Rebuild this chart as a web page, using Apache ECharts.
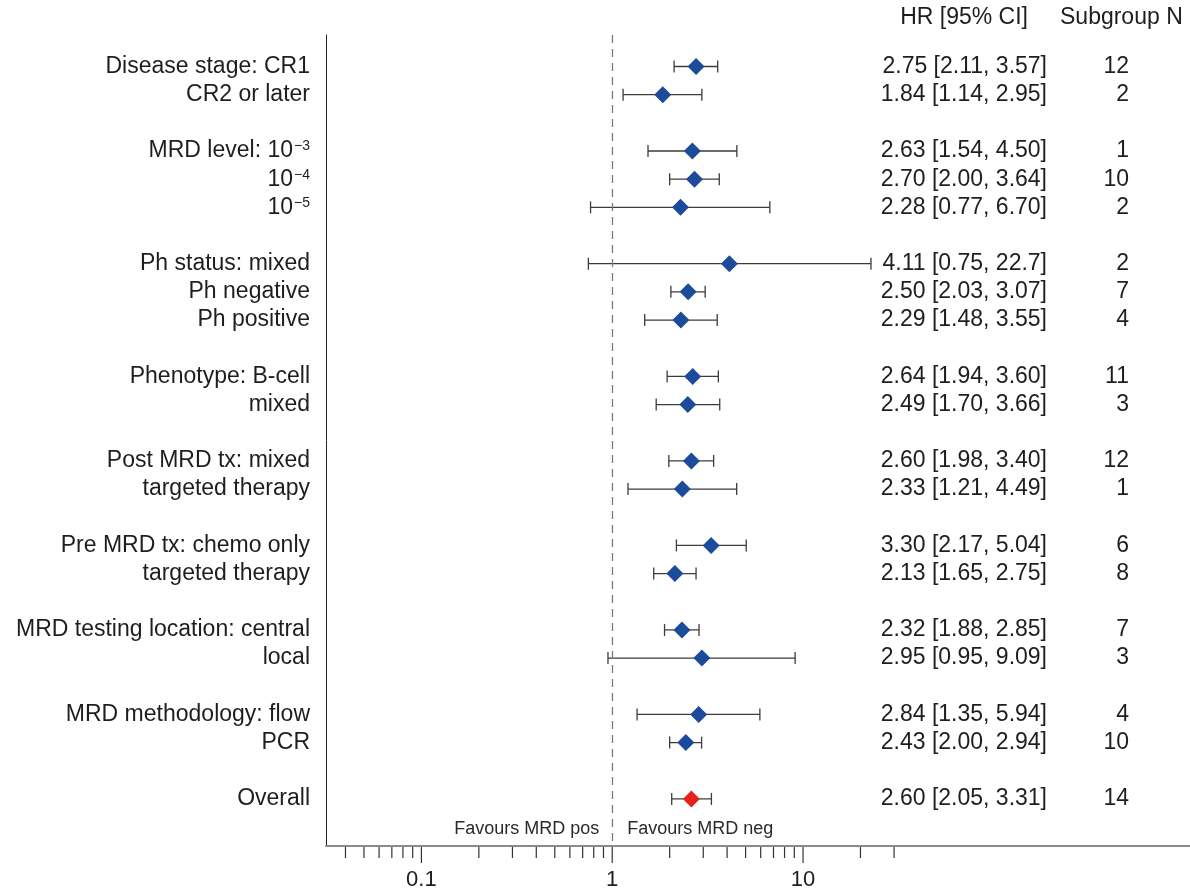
<!DOCTYPE html>
<html><head><meta charset="utf-8">
<script src="https://cdn.jsdelivr.net/npm/echarts@6/dist/echarts.min.js"></script>
<style>html,body{margin:0;padding:0;background:#fff}#c{width:1190px;height:892px}</style>
</head><body><div id="c"></div>
<script>
// ---- data ----
const rows = [0,1,3,4,5,7,8,9,11,12,14,15,17,18,20,21,23,24,26];
const labels = ['Disease stage: CR1','CR2 or later','MRD level: 10^\u22123','10^\u22124','10^\u22125',
  'Ph status: mixed','Ph negative','Ph positive','Phenotype: B-cell','mixed',
  'Post MRD tx: mixed','targeted therapy','Pre MRD tx: chemo only','targeted therapy',
  'MRD testing location: central','local','MRD methodology: flow','PCR','Overall'];
const hr = [2.75,1.84,2.63,2.70,2.28,4.11,2.50,2.29,2.64,2.49,2.60,2.33,3.30,2.13,2.32,2.95,2.84,2.43,2.60];
const lo = [2.11,1.14,1.54,2.00,0.77,0.75,2.03,1.48,1.94,1.70,1.98,1.21,2.17,1.65,1.88,0.95,1.35,2.00,2.05];
const hi = [3.57,2.95,4.50,3.64,6.70,22.7,3.07,3.55,3.60,3.66,3.40,4.49,5.04,2.75,2.85,9.09,5.94,2.94,3.31];
const nSub = [12,2,1,10,2,2,7,4,11,3,12,1,6,8,7,3,4,10,14];
const isOverall = [0,0,0,0,0,0,0,0,0,0,0,0,0,0,0,0,0,0,1];
const tickValues = [0.04,0.05,0.06,0.07,0.08,0.09,0.1,0.2,0.3,0.4,0.5,0.6,0.7,0.8,0.9,1,2,3,4,5,6,7,8,9,10,20,30];
const majorTicks = [0.1,1,10];
const majorLabels = ['0.1','1','10'];
const favours = ['Favours MRD pos','Favours MRD neg'];
const headers = ['HR [95% CI]','Subgroup N'];

// ---- layout ----
const FONT = "'Liberation Sans', Arial, sans-serif";
const TXT = '#1e1e1e';
const Y_MIN = -1.118, Y_MAX = 27.67;
const X_MIN = Math.pow(10,-1.5), X_MAX = Math.pow(10,3.028);

const fmt = v => v >= 10 ? v.toFixed(1) : v.toFixed(2);

function richLabel(s){
  const i = s.indexOf('^');
  if (i < 0) return '{a|' + s + '}';
  return '{a|' + s.slice(0,i) + '}{s|' + s.slice(i+1) + '}';
}

const chart = echarts.init(document.getElementById('c'), null, {renderer:'canvas'});
const option = {
  backgroundColor:'#fff',
  animation:false,
  grid:{left:326, right:0, top:35, bottom:46},
  xAxis:{type:'log', logBase:10, min:X_MIN, max:X_MAX,
    axisLine:{show:true, onZero:false, lineStyle:{color:'#8a8a8a', width:2}},
    axisTick:{show:false}, axisLabel:{show:false}, splitLine:{show:false}, minorTick:{show:false}},
  yAxis:{type:'value', inverse:true, min:Y_MIN, max:Y_MAX,
    axisLine:{show:true, onZero:false, lineStyle:{color:'#222', width:1}},
    axisTick:{show:false}, axisLabel:{show:false}, splitLine:{show:false}},
  graphic:[
    {type:'text', right:1190-1028, top:6, style:{text:headers[0], fill:TXT, font:'23px '+FONT}},
    {type:'text', left:1060, top:6, style:{text:headers[1], fill:TXT, font:'23px '+FONT}}
  ],
  series:[
    { // CI whiskers
      type:'custom', clip:false, silent:true,
      dimensions:['lo','hi','row'], encode:{x:[0,1], y:2},
      data: rows.map((r,i)=>[lo[i],hi[i],r]),
      renderItem:(params, api)=>{
        const a = api.coord([api.value(0), api.value(2)]);
        const b = api.coord([api.value(1), api.value(2)]);
        const st = {stroke:'#3c3c3c', lineWidth:1.3};
        return {type:'group', children:[
          {type:'line', shape:{x1:a[0],y1:a[1],x2:b[0],y2:b[1]}, style:st},
          {type:'line', shape:{x1:a[0],y1:a[1]-6,x2:a[0],y2:a[1]+6}, style:st},
          {type:'line', shape:{x1:b[0],y1:b[1]-6,x2:b[0],y2:b[1]+6}, style:st}
        ]};
      }
    },
    { // point estimates
      type:'scatter', symbol:'diamond', symbolSize:17, z:5, silent:true,
      itemStyle:{opacity:1},
      data: rows.map((r,i)=>({value:[hr[i], r], itemStyle:{opacity:1, color: isOverall[i] ? '#e4211c' : '#1d4b9b'}})),
      markLine:{silent:true, symbol:'none', animation:false,
        label:{show:false},
        lineStyle:{type:[8,6], color:'#7a7a7a', width:1.3},
        data:[{xAxis:1}]}
    },
    { // text columns
      type:'custom', clip:false, silent:true,
      dimensions:['x','row','idx'], encode:{x:0, y:1},
      data: rows.map((r,i)=>[1, r, i]),
      renderItem:(params, api)=>{
        const i = api.value(2);
        const y = api.coord([1, api.value(1)])[1];
        return {type:'group', children:[
          {type:'text', x:310, y:y, style:{text:richLabel(labels[i]), align:'right', verticalAlign:'middle',
            rich:{a:{fill:TXT, fontSize:23, fontFamily:FONT},
                  s:{fill:TXT, fontSize:14, fontFamily:FONT, verticalAlign:'top', padding:[0,0,2,1]}}}},
          {type:'text', x:1047, y:y, style:{text: fmt(hr[i]) + ' [' + fmt(lo[i]) + ', ' + fmt(hi[i]) + ']',
            align:'right', verticalAlign:'middle', fill:TXT, fontSize:23, fontFamily:FONT}},
          {type:'text', x:1129, y:y, style:{text:String(nSub[i]), align:'right', verticalAlign:'middle',
            fill:TXT, fontSize:23, fontFamily:FONT}}
        ]};
      }
    },
    { // axis ticks and labels
      type:'custom', clip:false, silent:true,
      dimensions:['v','y'], encode:{x:0, y:1},
      data: tickValues.map(v=>[v, Y_MAX]),
      renderItem:(params, api)=>{
        const v = api.value(0);
        const p = api.coord([v, Y_MAX]);
        const mi = majorTicks.indexOf(v);
        const major = mi >= 0;
        const ch = [{type:'line', shape:{x1:p[0],y1:p[1]+1,x2:p[0],y2:p[1]+(major?17:12)},
          style:{stroke:'#333', lineWidth:1.2}}];
        if (major) ch.push({type:'text', x:p[0], y:p[1]+34, style:{text:majorLabels[mi], align:'center',
          verticalAlign:'middle', fill:TXT, fontSize:22, fontFamily:FONT}});
        return {type:'group', children:ch};
      }
    },
    { // favours labels
      type:'custom', clip:false, silent:true,
      dimensions:['x','y'], encode:{x:0, y:1},
      data:[[1, Y_MAX]],
      renderItem:(params, api)=>{
        const p = api.coord([1, Y_MAX]);
        return {type:'group', children:[
          {type:'text', x:p[0]-13, y:p[1]-17, style:{text:favours[0], align:'right', verticalAlign:'middle',
            fill:'#2a2a2a', fontSize:18, fontFamily:FONT}},
          {type:'text', x:p[0]+15, y:p[1]-17, style:{text:favours[1], align:'left', verticalAlign:'middle',
            fill:'#2a2a2a', fontSize:18, fontFamily:FONT}}
        ]};
      }
    }
  ]
};
chart.setOption(option);
</script></body></html>
